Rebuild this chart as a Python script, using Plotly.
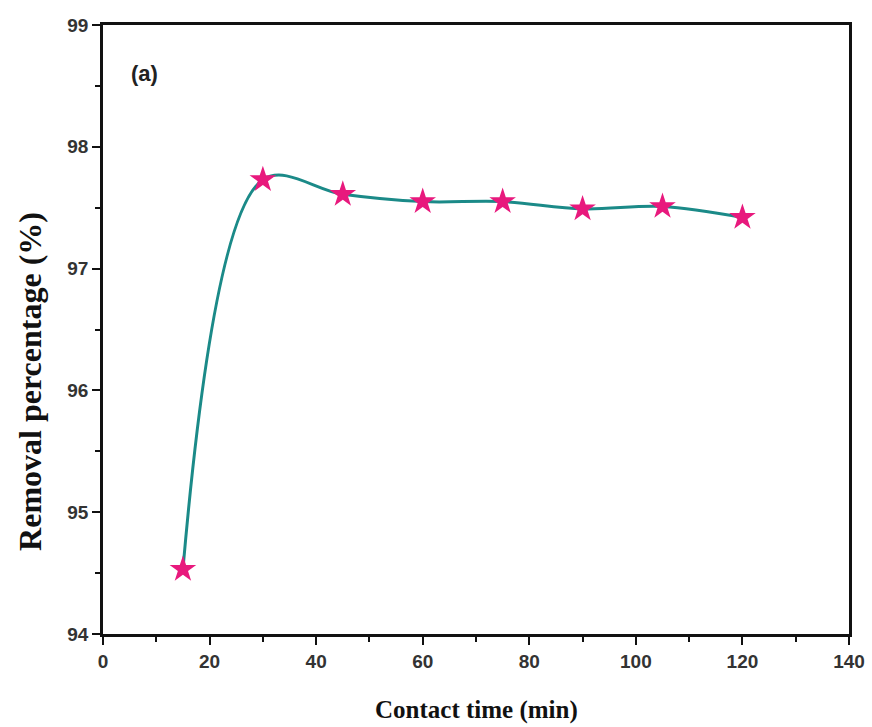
import plotly.graph_objects as go

contact_time = [15, 30, 45, 60, 75, 90, 105, 120]
removal_pct = [94.53, 97.73, 97.61, 97.55, 97.55, 97.49, 97.51, 97.42]

x_ticks = [0, 20, 40, 60, 80, 100, 120, 140]
y_ticks = [94, 95, 96, 97, 98, 99]

fig = go.Figure()
fig.add_trace(go.Scatter(
    x=contact_time, y=removal_pct, mode="lines",
    line=dict(color="#1b8a88", width=3, shape="spline", smoothing=1.0),
    showlegend=False, hoverinfo="skip"))
fig.add_trace(go.Scatter(
    x=contact_time, y=removal_pct, mode="markers",
    marker=dict(symbol="star", size=20, color="#e8197d", line=dict(width=0)),
    showlegend=False))

axis_common = dict(
    showline=True, linecolor="#111", linewidth=2.5, mirror=True,
    ticks="outside", ticklen=8, tickwidth=2, tickcolor="#111",
    showgrid=False, zeroline=False, automargin=False,
    tickfont=dict(family="Liberation Sans", size=19, color="#333"),
)

fig.update_xaxes(range=[0, 140], tickvals=x_ticks, ticktext=[f"<b>{v}</b>" for v in x_ticks],
                 minor=dict(dtick=10, ticks="outside", ticklen=5, tickwidth=2, tickcolor="#111"),
                 **axis_common)
fig.update_yaxes(range=[94, 99], tickvals=y_ticks, ticktext=[f"<b>{v}</b>" for v in y_ticks],
                 minor=dict(dtick=0.5, ticks="outside", ticklen=5, tickwidth=2, tickcolor="#111"),
                 **axis_common)

fig.add_annotation(x=0.5, y=-0.125, xref="paper", yref="paper",
                   text="<b>Contact time (min)</b>", showarrow=False,
                   font=dict(family="Liberation Serif", size=25, color="#111"),
                   xanchor="center", yanchor="middle")

fig.add_annotation(x=-0.097, y=0.415, xref="paper", yref="paper",
                   text="<b>Removal percentage (%)</b>", textangle=-90, showarrow=False,
                   font=dict(family="Liberation Serif", size=32, color="#111"),
                   xanchor="center", yanchor="middle")

fig.add_annotation(x=0.035, y=0.92, xref="paper", yref="paper", text="<b>(a)</b>",
                   showarrow=False, font=dict(family="Liberation Sans", size=22, color="#222"),
                   xanchor="left", yanchor="middle")

fig.update_layout(width=872, height=727, margin=dict(l=103, r=23, t=25, b=93),
                  plot_bgcolor="white", paper_bgcolor="white")

fig.write_html("out.html")
